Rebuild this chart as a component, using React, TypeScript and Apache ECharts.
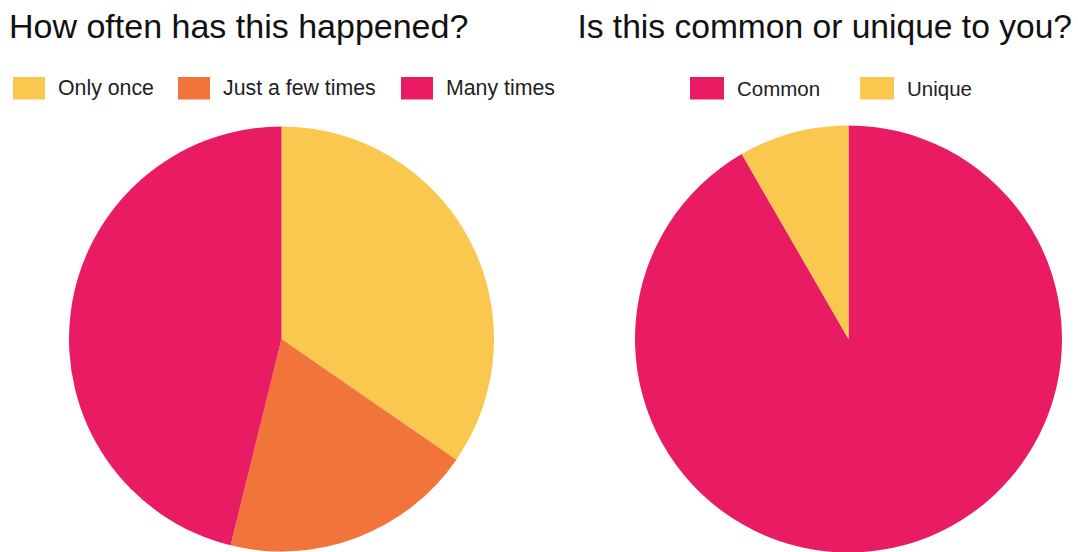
import React, { useEffect, useRef } from "react";
import * as echarts from "echarts";

const leftTitle = "How often has this happened?";
const rightTitle = "Is this common or unique to you?";
const frequencyCategories = ["Only once", "Just a few times", "Many times"];
const frequencyValues = [9, 5, 12];
const frequencyColors = ["#FBC84F", "#F1743A", "#E91B63"];
const commonCategories = ["Common", "Unique"];
const commonValues = [11, 1];
const commonColors = ["#E91B63", "#FBC84F"];

const FONT = "'Liberation Sans', Arial, sans-serif";
const leftLegendX = [13, 178, 401];
const rightLegendX = [690, 860];

export default function App() {
  const ref = useRef<HTMLDivElement>(null);
  useEffect(() => {
    if (!ref.current) return;
    const chart = echarts.init(ref.current, undefined, { renderer: "svg" });
    const makeLegend = (name: string, x: number, w: number, fs: number) => ({
      data: [name],
      left: x,
      top: 77,
      padding: 0,
      itemWidth: w,
      itemHeight: 22.5,
      icon: "rect",
      textStyle: { fontSize: fs, color: "#222", fontFamily: FONT, padding: [0, 0, 0, 8] },
    });
    chart.setOption({
      animation: false,
      backgroundColor: "#ffffff",
      title: [
        {
          text: leftTitle,
          left: 4,
          top: 4,
          textStyle: { fontSize: 34, fontWeight: "normal", color: "#111", fontFamily: FONT },
        },
        {
          text: rightTitle,
          right: 1,
          top: 4,
          textStyle: { fontSize: 33.6, fontWeight: "normal", color: "#111", fontFamily: FONT },
        },
      ],
      legend: [
        ...frequencyCategories.map((n, i) => makeLegend(n, leftLegendX[i], 32, 21.3)),
        ...commonCategories.map((n, i) => makeLegend(n, rightLegendX[i], 34, 20.5)),
      ],
      series: [
        {
          type: "pie",
          center: [281.5, 339],
          radius: 212.5,
          startAngle: 90,
          clockwise: true,
          label: { show: false },
          labelLine: { show: false },
          emphasis: { disabled: true },
          itemStyle: { borderWidth: 0 },
          data: frequencyCategories.map((name, i) => ({
            name,
            value: frequencyValues[i],
            itemStyle: { color: frequencyColors[i] },
          })),
        },
        {
          type: "pie",
          center: [848.5, 339],
          radius: 213.5,
          startAngle: 90,
          clockwise: true,
          label: { show: false },
          labelLine: { show: false },
          emphasis: { disabled: true },
          itemStyle: { borderWidth: 0 },
          data: commonCategories.map((name, i) => ({
            name,
            value: commonValues[i],
            itemStyle: { color: commonColors[i] },
          })),
        },
      ],
    });
    return () => chart.dispose();
  }, []);
  return (
    <div
      ref={ref}
      style={{ position: "absolute", left: 0, top: 0, width: 1078, height: 552 }}
    />
  );
}
